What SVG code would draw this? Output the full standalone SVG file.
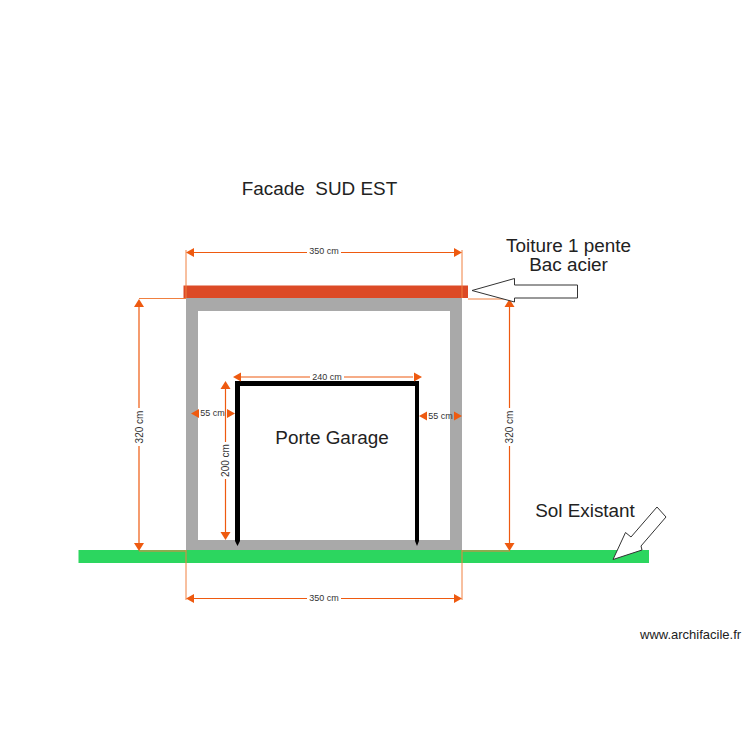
<svg xmlns="http://www.w3.org/2000/svg" width="750" height="750" viewBox="0 0 750 750">
<style>
text{font-family:"Liberation Sans",Arial,sans-serif;fill:#222;white-space:pre}
.t{font-size:18.900px;text-anchor:middle}
.d{font-size:9px;text-anchor:middle;fill:#333}
.v{font-size:10px;text-anchor:middle;fill:#333}
.l{stroke:#ee5a10;stroke-width:1.2;fill:none}
.e{stroke:#f08040;stroke-width:1;fill:none}
.a{fill:#ee5a10}
.o{fill:#fff;stroke:#333;stroke-width:1}
</style>
<rect width="750" height="750" fill="#fff"/>
<g id="sol"><rect x="78.500" y="550" width="570.500" height="13" fill="#2cd65f"/></g>
<g id="murs"><path fill="#a9a9a9" fill-rule="evenodd" d="M186 298H462V550H186ZM198 311V540H450V311Z"/></g>
<g id="toiture"><rect x="183.500" y="285.500" width="284.500" height="12.500" fill="#dc4a26"/></g>
<g id="porte"><path fill="#000" d="M235 381H419V541L417 546L415 541V386H240V541L237.500 546L235 541Z"/></g>
<g id="connectors">
<path class="e" d="M186 298V250M462 298V250M186 550V600M462 550V600M186 298.500H139M468 299H510M186 551H139M462 551H510"/>
<path class="l" d="M190 252.500H307M341 252.500H458M190 598.500H307M341 598.500H458M237 377H310M344 377H413M139 303V408M139 446V547M509.500 303V408M509.500 446V547M225.500 385V442M225.500 479V537"/>
<g class="a">
<path d="M186 252.500L194 248V257ZM462 252.500L454 248V257ZM186 598.500L194 594V603ZM462 598.500L454 594V603Z"/>
<path d="M233 377L241 372.500V381.500ZM422 377L414 372.500V381.500Z"/>
<path d="M139 299L134 307H144ZM139 551L134 543H144ZM509.500 299L504.500 307H514.500ZM509.500 551L504.500 543H514.500Z"/>
<path d="M225.500 381L220.500 389H230.500ZM225.500 540L220.500 532H230.500Z"/>
<path d="M191 413.500L199 409V418ZM235 413.500L227 409V418ZM419 416L427 411.500V420.500ZM462 416L454 411.500V420.500Z"/>
</g>
</g>
<g id="fleche-toiture"><path class="o" d="M472 290.500L514.500 278.500V285H577.500V298H514.500V302Z"/></g>
<g id="fleche-sol"><path class="o" d="M613 559.500L625.500 532.500L631 537L657 507L666 517L641 546L642 550Z"/></g>
<g id="labels">
<text class="t" x="319.500" y="195">Facade  SUD EST</text>
<text class="t" x="568.500" y="252">Toiture 1 pente</text>
<text class="t" x="568.500" y="271">Bac acier</text>
<text class="t" x="332" y="444">Porte Garage</text>
<text class="t" x="585" y="517">Sol Existant</text>
<text x="640" y="639" font-size="13" fill="#222">www.archifacile.fr</text>
<text class="d" x="324" y="254">350 cm</text>
<text class="d" x="324" y="601">350 cm</text>
<text class="d" x="327" y="380">240 cm</text>
<text class="d" x="212.500" y="416">55 cm</text>
<text class="d" x="440.500" y="419">55 cm</text>
<text class="v" transform="translate(142.500 427) rotate(-90)">320 cm</text>
<text class="v" transform="translate(512.500 427) rotate(-90)">320 cm</text>
<text class="v" transform="translate(228.500 460.500) rotate(-90)">200 cm</text>
</g>
</svg>
